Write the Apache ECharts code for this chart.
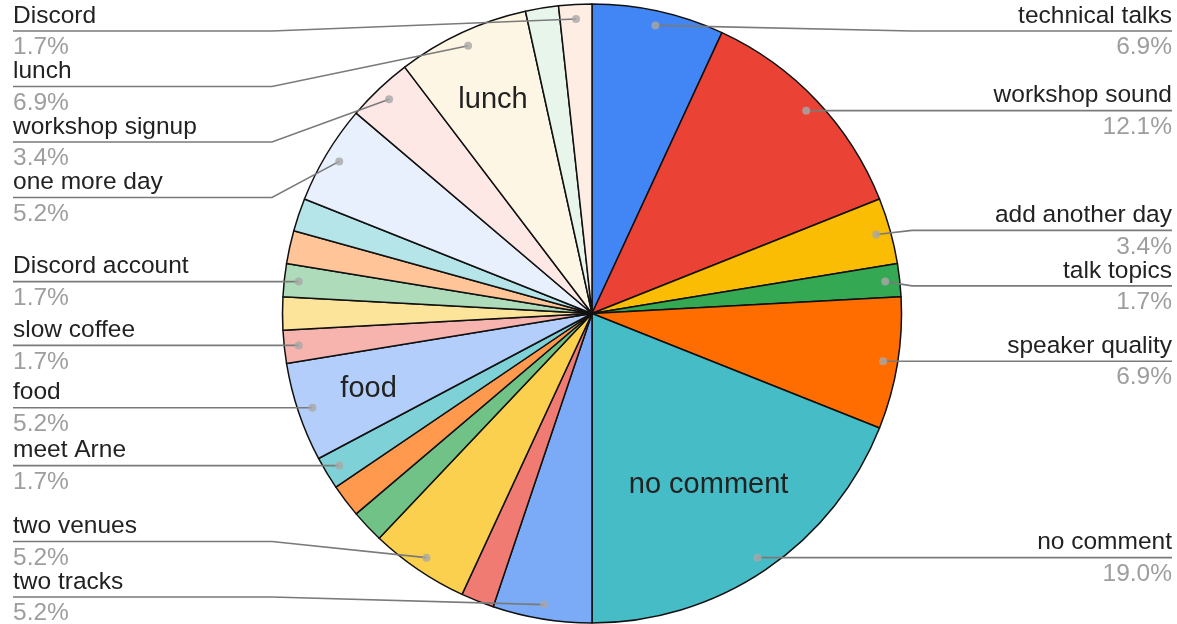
<!DOCTYPE html>
<html><head><meta charset="utf-8">
<script src="https://cdn.jsdelivr.net/npm/echarts@6/dist/echarts.min.js"></script>
<style>html,body{margin:0;padding:0;background:#fff}#c{width:1177px;height:624px}</style>
</head><body><div id="c"></div>
<script>
// ---- data ----
const categories = ['technical talks','workshop sound','add another day','talk topics','speaker quality','no comment','two tracks','(unlabelled 1)','two venues','(unlabelled 2)','(unlabelled 3)','meet Arne','food','slow coffee','(unlabelled 4)','Discord account','(unlabelled 5)','(unlabelled 6)','one more day','workshop signup','lunch','(unlabelled 7)','Discord'];
const counts = [4,7,2,1,4,11,3,1,3,1,1,1,3,1,1,1,1,1,3,2,4,1,1];
const colors = ['#4285F4','#EA4335','#FBBC04','#34A853','#FF6D01','#46BDC6','#7BAAF7','#F07B72','#FCD04F','#71C287','#FF994D','#7ED1D7','#B3CEFB','#F7B4AE','#FDE49B','#AEDCBA','#FFC599','#B5E5E8','#E9F0FD','#FDE8E6','#FEF6E4','#E8F5EB','#FEEDE3'];
const labeledSlices = ['technical talks','workshop sound','add another day','talk topics','speaker quality','no comment','two tracks','two venues','meet Arne','food','slow coffee','Discord account','one more day','workshop signup','lunch','Discord'];
const insideLabelSlices = ['lunch','food'];
const insideLabelSlicesDeep = ['no comment'];

// ---- layout constants ----
const CX = 592, CY = 313.5, R = 309.5, DOT_R = 295, BEND = 320;
const BOX = {left: 13, right: 5, top: 3, bottom: 0};
const LABEL_STEP = 55.5, LABEL_MIN_Y = 31, LABEL_MAX_Y = 597;
const FONT = 'Arial, "Liberation Sans", sans-serif';
const total = counts.reduce((a, b) => a + b, 0);

const chart = echarts.init(document.getElementById('c'), null, {renderer: 'canvas'});

const baseData = categories.map((n, i) => ({name: n, value: counts[i]}));
const clear = 'rgba(0,0,0,0)';

// dots at the middle of each labelled slice + label rows (Google-style cluster packing)
const dots = [];
const sides = {left: [], right: []};
let cum = 0;
categories.forEach((n, i) => {
  const mid = cum + counts[i] / 2;
  if (labeledSlices.includes(n)) {
    dots.push([1, mid]);
    const ang = mid / total * Math.PI * 2;
    const item = {idx: i, target: CY - DOT_R * Math.cos(ang)};
    (Math.sin(ang) > 0 ? sides.right : sides.left).push(item);
  }
  cum += counts[i];
});
const labelY = {};
function pack(items) {
  items.sort((a, b) => a.target - b.target);
  const place = c => {
    const n = c.items.length;
    let s = c.sum / n - (n - 1) * LABEL_STEP / 2;
    s = Math.max(LABEL_MIN_Y, Math.min(LABEL_MAX_Y - (n - 1) * LABEL_STEP, s));
    c.start = s;
  };
  let cl = items.map(it => ({items: [it], sum: it.target}));
  cl.forEach(place);
  let changed = true;
  while (changed) {
    changed = false;
    for (let i = 0; i < cl.length - 1; i++) {
      const a = cl[i], b = cl[i + 1];
      if (a.start + a.items.length * LABEL_STEP > b.start + 1e-6) {
        const m = {items: a.items.concat(b.items), sum: a.sum + b.sum};
        place(m);
        cl.splice(i, 2, m);
        changed = true;
        break;
      }
    }
  }
  cl.forEach(c => c.items.forEach((it, k) => { labelY[it.idx] = c.start + k * LABEL_STEP; }));
}
pack(sides.left); pack(sides.right);

const option = {
  animation: false,
  backgroundColor: '#fff',
  polar: {center: [CX, CY], radius: DOT_R},
  angleAxis: {type: 'value', min: 0, max: total, startAngle: 90, clockwise: true, show: false},
  radiusAxis: {type: 'value', min: 0, max: 1, show: false},
  series: [
    {
      type: 'pie', silent: true, z: 1, center: [CX, CY], radius: R, startAngle: 90, clockwise: true,
      label: {show: false}, labelLine: {show: false},
      itemStyle: {borderColor: '#111', borderWidth: 1.5},
      emphasis: {disabled: true},
      data: baseData.map((d, i) => ({...d, itemStyle: {color: colors[i]}}))
    },
    {
      type: 'pie', silent: true, z: 3, left: BOX.left, right: BOX.right, top: BOX.top, bottom: BOX.bottom,
      center: [CX - BOX.left, CY - BOX.top], radius: DOT_R, startAngle: 90, clockwise: true,
      itemStyle: {color: clear, borderWidth: 0},
      emphasis: {disabled: true},
      avoidLabelOverlap: true,
      label: {
        show: true, position: 'outside', alignTo: 'edge', edgeDistance: 0, distanceToLabelLine: 0,
        overflow: 'none', bleedMargin: 0,
        formatter: p => '{n|' + p.name + '}\n{p|' + (p.value / total * 100).toFixed(1) + '%}',
        rich: {
          n: {fontFamily: FONT, fontSize: 24.5, lineHeight: 33, color: '#222'},
          p: {fontFamily: FONT, fontSize: 24.5, lineHeight: 30, color: '#9e9e9e'}
        }
      },
      labelLine: {show: true, length: 0, length2: 0, smooth: false, lineStyle: {color: '#7a7a7a', width: 1.6}},
      labelLayout: function (p) {
        const pts = p.labelLinePoints;
        if (!pts || !p.labelRect || labelY[p.dataIndex] == null) return {};
        const r = p.labelRect;
        const y = labelY[p.dataIndex];
        const right = r.x + r.width / 2 > CX;
        const bendX = right ? CX + BEND : CX - BEND;
        const endX = right ? r.x + r.width : r.x;
        return {y: y, labelLinePoints: [pts[0], [bendX, y], [endX, y]]};
      },
      data: baseData.map(d => {
        const on = labeledSlices.includes(d.name);
        return {...d, label: {show: on}, labelLine: {show: on}};
      })
    },
    {
      type: 'pie', silent: true, z: 3, center: [CX, CY], radius: [156, R], startAngle: 90, clockwise: true,
      itemStyle: {color: clear, borderWidth: 0}, emphasis: {disabled: true},
      label: {position: 'inside', fontFamily: FONT, fontSize: 29, color: '#222', formatter: '{b}'},
      labelLine: {show: false},
      data: baseData.map(d => ({...d, label: {show: insideLabelSlices.includes(d.name)}}))
    },
    {
      type: 'pie', silent: true, z: 3, center: [CX, CY], radius: [100, R], startAngle: 90, clockwise: true,
      itemStyle: {color: clear, borderWidth: 0}, emphasis: {disabled: true},
      label: {position: 'inside', fontFamily: FONT, fontSize: 29, color: '#222', formatter: '{b}'},
      labelLine: {show: false},
      data: baseData.map(d => ({...d, label: {show: insideLabelSlicesDeep.includes(d.name)}}))
    },
    {
      type: 'scatter', coordinateSystem: 'polar', silent: true, z: 10,
      symbol: 'circle', symbolSize: 8, itemStyle: {color: '#a8a8a8'},
      data: dots
    }
  ]
};
chart.setOption(option);
</script>
</body></html>
